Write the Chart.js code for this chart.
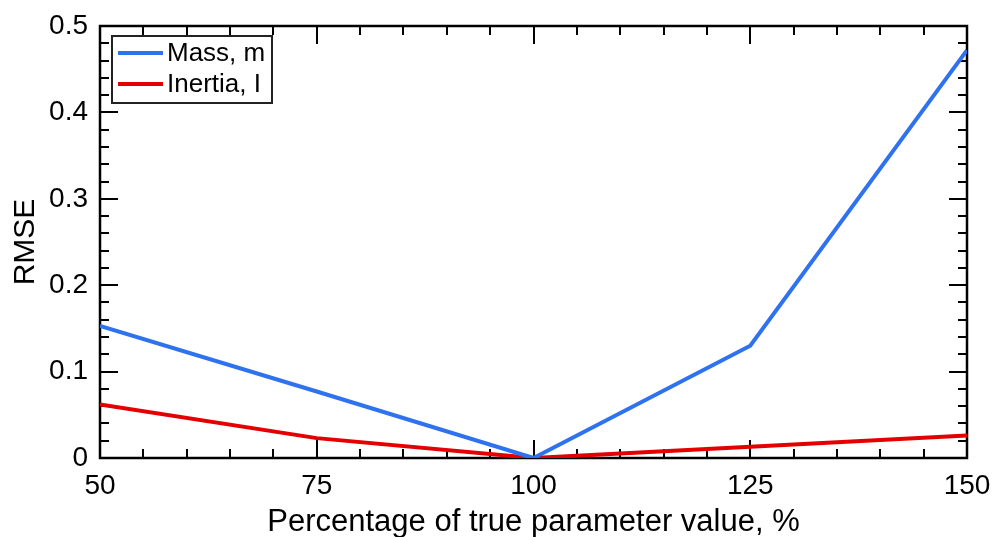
<!DOCTYPE html>
<html lang="en">
<head>
<meta charset="UTF-8">
<title>RMSE vs parameter value</title>
<script src="https://cdn.jsdelivr.net/npm/chart.js"></script>
<style>
  html, body { margin: 0; padding: 0; background: #fff; }
  #wrap { width: 992px; height: 537px; }
</style>
</head>
<body>
<div id="wrap"><canvas id="chartRMSE" width="992" height="537"></canvas></div>
<script>
// percentage of the true parameter value
const percent = [50, 75, 100, 125, 150];
// RMSE for each perturbed parameter
const rmseMass = [0.153, 0.077, 0, 0.130, 0.472];
const rmseInertia = [0.062, 0.023, 0, 0.013, 0.026];
// axis ticks
const xTicks = [50, 75, 100, 125, 150];
const yTicks = [0, 0.1, 0.2, 0.3, 0.4, 0.5];
const xMinorStep = 5;
const yMinorStep = 0.02;

const FONT = '"Liberation Sans", Arial, Helvetica, sans-serif';

// box + inward ticks on all four sides
const framePlugin = {
    id: 'frame',
    beforeDatasetsDraw(chart) {
        const { ctx, chartArea: a, scales: { x, y } } = chart;
        const major = 18, minor = 9;
        ctx.save();
        ctx.strokeStyle = '#000';
        ctx.lineWidth = 2;
        ctx.beginPath();
        for (let v = x.min; v <= x.max + 1e-9; v += xMinorStep) {
            const px = Math.round(x.getPixelForValue(v));
            const len = xTicks.includes(Math.round(v)) ? major : minor;
            ctx.moveTo(px, a.bottom); ctx.lineTo(px, a.bottom - len);
            ctx.moveTo(px, a.top); ctx.lineTo(px, a.top + len);
        }
        for (let i = 0; i <= Math.round((y.max - y.min) / yMinorStep); i++) {
            const v = y.min + i * yMinorStep;
            const py = Math.round(y.getPixelForValue(v));
            const len = (i % 5 === 0) ? major : minor;
            ctx.moveTo(a.left, py); ctx.lineTo(a.left + len, py);
            ctx.moveTo(a.right, py); ctx.lineTo(a.right - len, py);
        }
        ctx.stroke();
        ctx.lineWidth = 2.5;
        ctx.strokeRect(a.left, a.top, a.right - a.left, a.bottom - a.top);
        ctx.restore();
    },
    afterDraw(chart) {
        // legend box in the upper-left corner
        const { ctx, chartArea: a } = chart;
        const bx = a.left + 12, by = a.top + 10, bw = 160, bh = 67;
        ctx.save();
        ctx.fillStyle = '#fff';
        ctx.fillRect(bx, by, bw, bh);
        ctx.strokeStyle = '#222';
        ctx.lineWidth = 2;
        ctx.strokeRect(bx, by, bw, bh);
        ctx.font = '26px ' + FONT;
        ctx.textBaseline = 'middle';
        chart.data.datasets.forEach((ds, i) => {
            const cy = by + 17 + i * 31;
            ctx.strokeStyle = ds.borderColor;
            ctx.lineWidth = 4;
            ctx.beginPath();
            ctx.moveTo(bx + 6, cy); ctx.lineTo(bx + 51, cy);
            ctx.stroke();
            ctx.fillStyle = '#000';
            ctx.fillText(ds.label, bx + 55, cy + 1);
        });
        ctx.restore();
    }
};

new Chart(document.getElementById('chartRMSE').getContext('2d'), {
    type: 'line',
    data: {
        labels: percent,
        datasets: [
            { label: 'Mass, m', data: percent.map((p, i) => ({ x: p, y: rmseMass[i] })),
              borderColor: '#2f72ef', borderWidth: 4, pointRadius: 0, tension: 0 },
            { label: 'Inertia, I', data: percent.map((p, i) => ({ x: p, y: rmseInertia[i] })),
              borderColor: '#e40000', borderWidth: 4, pointRadius: 0, tension: 0 }
        ]
    },
    options: {
        responsive: false,
        animation: false,
        layout: { padding: { top: 26, right: 25, left: 0, bottom: 0 } },
        plugins: { legend: { display: false }, tooltip: { enabled: false } },
        scales: {
            x: {
                type: 'linear',
                min: 50, max: 150,
                afterBuildTicks: s => { s.ticks = xTicks.map(v => ({ value: v })); },
                afterFit: s => { s.height = 79; s.paddingLeft = 0; s.paddingRight = 0; },
                grid: { display: false, drawTicks: false },
                border: { display: false },
                ticks: { color: '#000', padding: 11, maxRotation: 0, font: { family: FONT, size: 28 } },
                title: {
                    display: true,
                    text: 'Percentage of true parameter value, %',
                    color: '#000',
                    padding: { top: 0, bottom: -4 },
                    font: { family: FONT, size: 31 }
                }
            },
            y: {
                min: 0, max: 0.5,
                afterBuildTicks: s => { s.ticks = yTicks.map(v => ({ value: v })); },
                afterFit: s => { s.width = 100; s.paddingTop = 0; s.paddingBottom = 0; },
                grid: { display: false, drawTicks: false },
                border: { display: false },
                ticks: { color: '#000', padding: 12, font: { family: FONT, size: 28 },
                         callback: v => String(+v.toFixed(1)) },
                title: {
                    display: true,
                    text: 'RMSE',
                    color: '#000',
                    padding: { top: 8, bottom: 0 },
                    font: { family: FONT, size: 30 }
                }
            }
        }
    },
    plugins: [framePlugin]
});
</script>
</body>
</html>
